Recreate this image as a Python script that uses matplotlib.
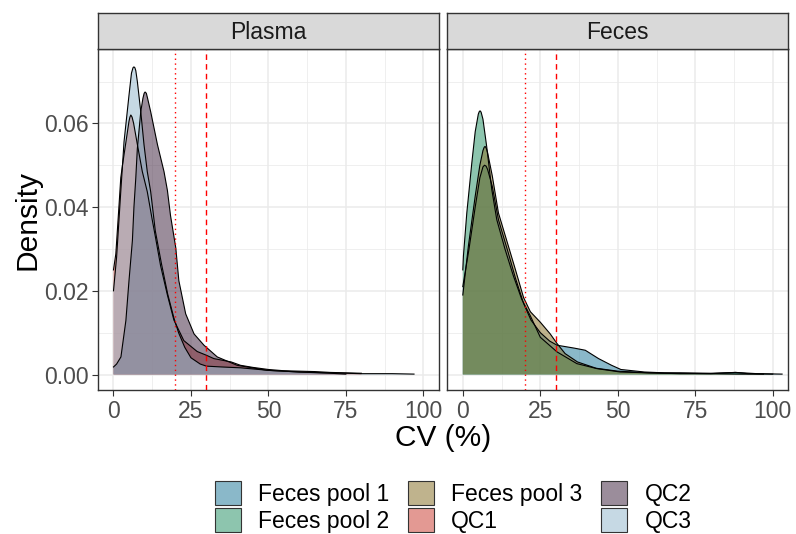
import numpy as np
import matplotlib
matplotlib.use("Agg")
import matplotlib.pyplot as plt
from matplotlib.patches import Patch
from matplotlib.colors import to_rgba

plt.rcParams['font.family'] = ['Liberation Sans', 'DejaVu Sans']

# traced density curves (CV %, density)
qc1_x = [0, 0.75, 1.8, 2.35, 2.9, 4.0, 5.0, 5.3, 5.6, 6.0, 6.5, 7.7, 9.3, 10.9, 12.5, 13.5, 15.2, 17.4,
         19.5, 22.7, 27, 30, 32.4, 38, 41, 45, 50, 55, 60, 65, 70, 75, 80]
qc1_y = [0.025, 0.0288, 0.0406, 0.047, 0.050, 0.0555, 0.0605, 0.0615, 0.062, 0.0615, 0.060, 0.055,
         0.0485, 0.0437, 0.037, 0.033, 0.026, 0.019, 0.013, 0.0081, 0.0055, 0.0046, 0.0038, 0.003,
         0.0022, 0.0017, 0.0012, 0.0009, 0.0008, 0.0007, 0.0005, 0.0004, 0.0003]

qc2_x = [0, 1, 2.4, 4, 5, 6.1, 6.6, 7.2, 7.7, 8.8, 9.5, 9.9, 10.2, 10.6, 11, 12, 14.2, 16.3, 17.4,
         18.4, 20.1, 21.1, 23.3, 26, 29.2, 33.5, 39.9, 49.6, 60, 70, 75]
qc2_y = [0.0018, 0.0025, 0.0042, 0.0129, 0.0224, 0.032, 0.040, 0.047, 0.054, 0.0628, 0.066, 0.0672,
         0.0675, 0.0672, 0.066, 0.0628, 0.0549, 0.0485, 0.044, 0.038, 0.0303, 0.0224, 0.0145,
         0.0097, 0.007, 0.0042, 0.0022, 0.001, 0.0006, 0.0003, 0.0001]

qc3_x = [0, 1, 2.35, 3.4, 5, 5.8, 6.3, 6.6, 6.9, 7.2, 7.7, 8.8, 9.85, 10.9, 12, 13.5, 15.5, 17.5,
         19.5, 21, 23, 25, 28, 30, 35, 41, 50, 60, 70, 80, 90, 97]
qc3_y = [0.020, 0.028, 0.0437, 0.0556, 0.0667, 0.072, 0.0733, 0.0735, 0.0733, 0.0726, 0.070,
         0.0628, 0.0549, 0.0485, 0.0437, 0.0343, 0.0264, 0.0192, 0.0135, 0.010, 0.0065, 0.004,
         0.0025, 0.002, 0.0018, 0.0016, 0.001, 0.0006, 0.0004, 0.0002, 0.0002, 0.0001]

fp1_x = [0, 2, 4, 5.5, 6.5, 7, 7.5, 8, 9.5, 11.5, 14.7, 17, 19.6, 22, 25, 28, 30.4, 33.6, 36, 39.5,
         43.8, 48, 51, 58.6, 65, 70, 80, 88, 95, 103]
fp1_y = [0.021, 0.030, 0.040, 0.047, 0.0496, 0.050, 0.0498, 0.049, 0.045, 0.037, 0.029, 0.023,
         0.017, 0.013, 0.010, 0.008, 0.007, 0.0066, 0.0063, 0.0058, 0.0038, 0.0022, 0.0012, 0.0006,
         0.0004, 0.0004, 0.0003, 0.0005, 0.0002, 0.0001]

fp2_x = [0, 0.2, 1.29, 2.9, 4, 5, 5.3, 5.57, 5.9, 6.5, 7.7, 9.35, 10.96, 13.6, 16.3, 19, 21.8, 25,
         30.4, 36.8, 43.3, 50.8, 60, 70, 80, 88, 92, 100]
fp2_y = [0.025, 0.0283, 0.0386, 0.0505, 0.058, 0.0622, 0.0628, 0.063, 0.0627, 0.061, 0.0545, 0.0442,
         0.037, 0.030, 0.0236, 0.018, 0.014, 0.0089, 0.0054, 0.0026, 0.0014, 0.0006, 0.0004,
         0.0003, 0.0002, 0.0005, 0.0002, 0.0001]

fp3_x = [0, 1.8, 4, 5.5, 6.5, 6.9, 7.2, 7.6, 8, 9.5, 11.5, 14.7, 17, 19.6, 21.8, 25, 28.2, 30.4, 33,
         37, 43, 50, 60, 70, 80, 90, 97]
fp3_y = [0.019, 0.0307, 0.0426, 0.050, 0.0535, 0.0543, 0.0545, 0.054, 0.053, 0.0475, 0.0386, 0.0307,
         0.025, 0.0184, 0.015, 0.0125, 0.0097, 0.0074, 0.005, 0.003, 0.0015, 0.0008, 0.0004, 0.0002,
         0.0002, 0.0001, 0.0001]

labels = ['Feces pool 1', 'Feces pool 2', 'Feces pool 3', 'QC1', 'QC2', 'QC3']
colors = ['#2A7F9D', '#2F966C', '#8C7630', '#CD453B', '#4A304A', '#98BBCF']
panels = {
    'Plasma': [('QC1', qc1_x, qc1_y), ('QC2', qc2_x, qc2_y), ('QC3', qc3_x, qc3_y)],
    'Feces': [('Feces pool 1', fp1_x, fp1_y), ('Feces pool 2', fp2_x, fp2_y),
              ('Feces pool 3', fp3_x, fp3_y)],
}
col_of = dict(zip(labels, colors))
alpha = 0.55

W, H = 796, 534
fig = plt.figure(figsize=(W / 100, H / 100), dpi=100)

def frac(x0, y0, x1, y1):
    return [x0 / W, 1 - y1 / H, (x1 - x0) / W, (y1 - y0) / H]

panel_x = [(98, 438.8), (447.3, 788.3)]
for i, (name, series) in enumerate(panels.items()):
    x0, x1 = panel_x[i]
    ax = fig.add_axes(frac(x0, 49.3, x1, 390))
    ax.set_xlim(-5, 105)
    ax.set_ylim(-0.0037, 0.0777)
    ax.set_axisbelow(True)
    ax.set_xticks([0, 25, 50, 75, 100])
    ax.set_xticks([12.5, 37.5, 62.5, 87.5], minor=True)
    ax.set_yticks([0, 0.02, 0.04, 0.06])
    ax.set_yticks([0.01, 0.03, 0.05, 0.07], minor=True)
    ax.grid(True, which='major', color='#EBEBEB', lw=1.1)
    ax.grid(True, which='minor', color='#EBEBEB', lw=0.55)
    ax.tick_params(which='minor', length=0)
    ax.tick_params(which='major', length=4, color='#333333', width=0.8,
                   labelsize=16.5, labelcolor='#4D4D4D', pad=3)
    for sp in ax.spines.values():
        sp.set_color('#333333')
        sp.set_linewidth(1.0)
    for lab, xs, ys in series:
        ax.fill_between(xs, 0, ys, facecolor=col_of[lab], alpha=alpha, lw=0, zorder=2)
        ax.plot(xs, ys, color='black', lw=0.8, zorder=3)
    ax.axvline(20, color='red', ls=(0, (1, 2.5)), lw=1.0, zorder=4)
    ax.axvline(30, color='red', ls=(0, (4, 3)), lw=1.0, zorder=4)
    if i == 0:
        ax.set_yticklabels(['0.00', '0.02', '0.04', '0.06'])
    else:
        ax.tick_params(axis='y', which='both', left=False, labelleft=False)

    # facet strip
    sax = fig.add_axes(frac(x0, 12.7, x1, 49.3))
    sax.set_facecolor('#D9D9D9')
    sax.set_xticks([])
    sax.set_yticks([])
    for sp in sax.spines.values():
        sp.set_color('#333333')
        sp.set_linewidth(1.0)
    sax.text(0.5, 0.47, name, ha='center', va='center', fontsize=16.5,
             color='#1A1A1A', transform=sax.transAxes)

fig.text(27 / W, 1 - 220 / H, 'Density', rotation=90, ha='center', va='center',
         fontsize=21.5, color='black')
fig.text(443 / W, 1 - 438 / H, 'CV (%)', ha='center', va='center', fontsize=21.5,
         color='black')

handles = [Patch(facecolor=to_rgba(c, alpha), edgecolor='#333333', lw=0.8) for c in colors]
fig.legend(handles, labels, ncol=3, loc='center', bbox_to_anchor=(453 / W, 1 - 507 / H),
           frameon=False, fontsize=16.5, handlelength=1.15, handleheight=1.2,
           labelspacing=0.1, handletextpad=0.75, columnspacing=0.8, borderpad=0)

fig.savefig('out.png', dpi=100)
